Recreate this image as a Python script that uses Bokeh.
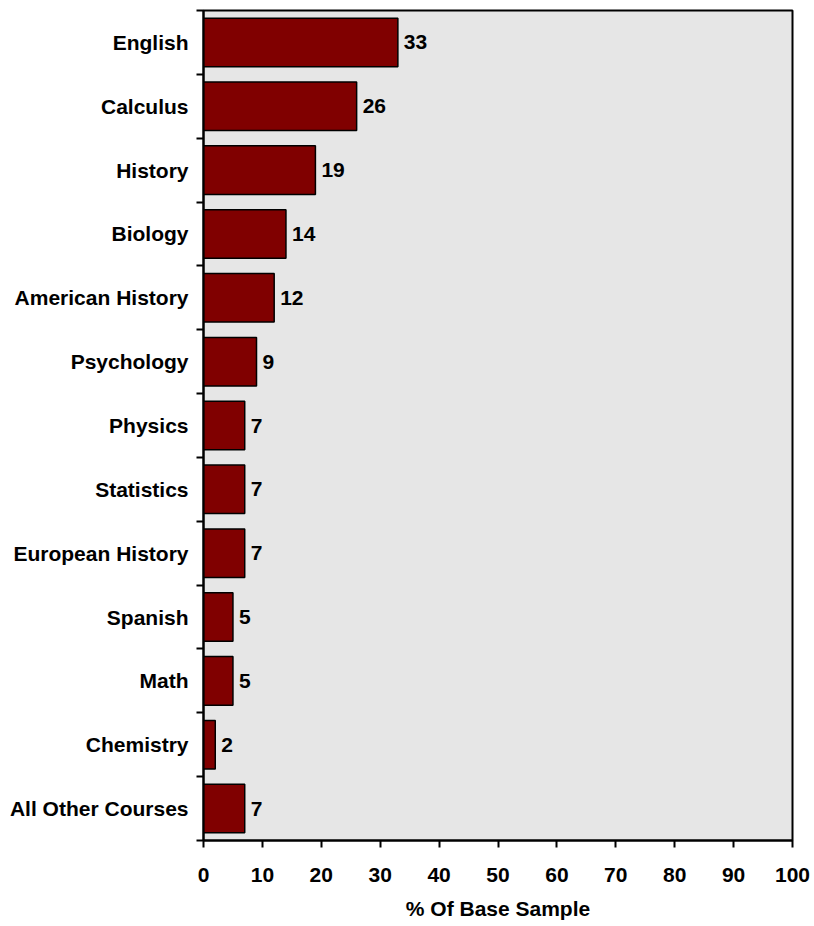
from bokeh.plotting import figure
from bokeh.models import (FactorRange, Range1d, LinearAxis, CategoricalAxis, FixedTicker,
                          ColumnDataSource)
from bokeh.core.properties import value
from bokeh.embed import file_html
from bokeh.resources import INLINE

categories = ["English", "Calculus", "History", "Biology", "American History", "Psychology",
              "Physics", "Statistics", "European History", "Spanish", "Math", "Chemistry",
              "All Other Courses"]
values = [33, 26, 19, 14, 12, 9, 7, 7, 7, 5, 5, 2, 7]
x_ticks = [0, 10, 20, 30, 40, 50, 60, 70, 80, 90, 100]
x_title = "% Of Base Sample"

FONT = "'Liberation Sans', Arial, sans-serif"
FS = "21px"

src = ColumnDataSource(dict(cat=categories, val=values, lab=[str(v) for v in values]))

p = figure(width=814, height=926, output_backend="svg", toolbar_location=None,
           y_range=FactorRange(factors=list(reversed(categories)), range_padding=0),
           x_range=Range1d(0, 100), y_axis_location=None, x_axis_location="below",
           min_border_left=203, min_border_right=22, min_border_top=10, min_border_bottom=86)

p.background_fill_color = "#e6e6e6"
p.border_fill_color = "white"
p.outline_line_color = "black"
p.outline_line_width = 2
p.xgrid.visible = False
p.ygrid.visible = False

p.hbar(y="cat", right="val", left=0, height=0.76, source=src,
       fill_color="#800000", line_color="black", line_width=1.5)

p.text(x="val", y="cat", text="lab", source=src, x_offset=6,
       text_baseline="middle", text_align="left",
       text_font=value(FONT), text_font_size=FS, text_font_style="bold", text_color="black")

# x axis
xa = p.xaxis[0]
xa.ticker = FixedTicker(ticks=x_ticks)
xa.minor_tick_line_color = None
xa.major_tick_out = 7
xa.major_tick_in = 0
xa.major_tick_line_width = 2
xa.axis_line_width = 2
xa.axis_line_color = "black"
xa.major_label_text_font = FONT
xa.major_label_text_font_size = FS
xa.major_label_text_font_style = "bold"
xa.major_label_text_color = "black"
xa.major_label_standoff = 20
xa.axis_label = x_title
xa.axis_label_text_font = FONT
xa.axis_label_text_font_size = FS
xa.axis_label_text_font_style = "bold"
xa.axis_label_text_color = "black"
xa.axis_label_standoff = 12

# y axis: boundary ticks between categories (closest to frame), then category labels
edge_axis = LinearAxis(ticker=FixedTicker(ticks=list(range(len(categories) + 1))),
                       major_tick_out=7, major_tick_in=0, major_tick_line_width=2,
                       minor_tick_line_color=None, axis_line_width=2, axis_line_color="black",
                       major_label_text_font_size="1px", major_label_text_color=None,
                       major_label_standoff=0)
p.add_layout(edge_axis, "left")

cat_axis = CategoricalAxis(major_tick_line_color=None, axis_line_color=None,
                           major_tick_out=0, major_tick_in=0, major_label_standoff=8,
                           major_label_text_font=FONT, major_label_text_font_size=FS,
                           major_label_text_font_style="bold", major_label_text_color="black")
p.add_layout(cat_axis, "left")

open("out.html", "w").write(file_html(p, INLINE))
